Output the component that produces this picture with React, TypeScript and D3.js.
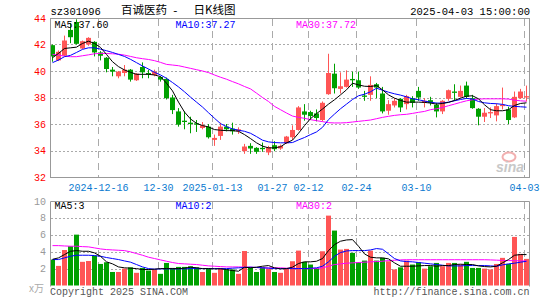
import React from 'react';
import * as d3 from 'd3';

const dates = [
  '2024-12-04','2024-12-05','2024-12-06','2024-12-09','2024-12-10','2024-12-11','2024-12-12','2024-12-13',
  '2024-12-16','2024-12-17','2024-12-18','2024-12-19','2024-12-20','2024-12-23','2024-12-24','2024-12-25',
  '2024-12-26','2024-12-27','2024-12-30','2024-12-31','2025-01-02','2025-01-03','2025-01-06','2025-01-07',
  '2025-01-08','2025-01-09','2025-01-10','2025-01-13','2025-01-14','2025-01-15','2025-01-16','2025-01-17',
  '2025-01-20','2025-01-21','2025-01-22','2025-01-23','2025-01-24','2025-01-27','2025-02-05','2025-02-06',
  '2025-02-07','2025-02-10','2025-02-11','2025-02-12','2025-02-13','2025-02-14','2025-02-17','2025-02-18',
  '2025-02-19','2025-02-20','2025-02-21','2025-02-24','2025-02-25','2025-02-26','2025-02-27','2025-02-28',
  '2025-03-03','2025-03-04','2025-03-05','2025-03-06','2025-03-07','2025-03-10','2025-03-11','2025-03-12',
  '2025-03-13','2025-03-14','2025-03-17','2025-03-18','2025-03-19','2025-03-20','2025-03-21','2025-03-24',
  '2025-03-25','2025-03-26','2025-03-27','2025-03-28','2025-03-31','2025-04-01','2025-04-02','2025-04-03',
];

const open = [
  41.95, 40.8, 41.15, 43.1, 43.7, 41.7, 42.0, 42.2, 41.4, 41.0,
  40.1, 39.6, 39.85, 40.1, 39.3, 40.3, 39.85, 39.7, 39.55, 39.4,
  38.0, 36.95, 36.25, 36.1, 36.05, 35.7, 35.8, 34.8, 35.1, 35.8,
  35.65, 35.45, 33.95, 34.35, 34.2, 34.2, 33.85, 34.4, 34.15, 34.55,
  35.0, 35.55, 36.95, 36.9, 36.8, 36.3, 38.25, 39.8, 38.65, 38.8,
  39.4, 39.3, 38.15, 38.2, 39.0, 38.3, 37.0, 37.4, 37.9, 37.5,
  37.95, 38.5, 37.6, 37.8, 37.45, 36.95, 37.9, 38.45, 38.05, 38.9,
  37.95, 37.15, 36.55, 36.8, 36.65, 37.35, 37.1, 36.5, 37.95, 38.0,
];
const close = [
  41.1, 41.45, 42.3, 42.55, 42.05, 42.25, 42.5, 41.4, 41.15, 40.15,
  39.95, 39.95, 40.1, 39.35, 39.8, 39.9, 39.75, 39.95, 39.35, 37.95,
  37.05, 35.95, 36.15, 36.0, 35.95, 35.9, 35.0, 34.95, 35.8, 35.6,
  35.45, 35.6, 34.3, 34.15, 33.9, 34.1, 34.25, 34.1, 34.35, 35.05,
  35.55, 37.25, 36.7, 36.6, 36.45, 37.6, 39.85, 38.7, 38.85, 39.35,
  39.3, 38.75, 38.05, 38.95, 38.75, 36.95, 37.5, 37.75, 37.25, 38.1,
  37.6, 38.0, 37.75, 37.6, 36.95, 37.75, 38.55, 38.35, 38.5, 38.05,
  37.2, 36.55, 36.85, 36.9, 37.35, 37.45, 36.3, 38.05, 38.45, 38.1,
];
const high = [
  42.0, 41.55, 42.67, 43.6, 43.9, 42.3, 42.55, 42.25, 41.5, 41.05,
  40.3, 40.0, 40.45, 40.15, 39.85, 40.65, 40.1, 40.1, 39.6, 39.5,
  38.2, 37.2, 36.95, 36.55, 36.3, 36.15, 36.0, 35.2, 36.1, 36.0,
  36.1, 35.75, 34.5, 34.55, 34.25, 34.6, 34.35, 34.7, 34.45, 35.1,
  35.9, 37.35, 37.5, 37.0, 37.1, 37.7, 41.3, 40.55, 39.9, 40.05,
  39.95, 39.95, 38.5, 39.6, 39.1, 38.8, 37.8, 37.95, 37.95, 38.2,
  38.1, 38.8, 37.95, 38.05, 37.6, 37.8, 38.6, 39.0, 38.9, 39.2,
  38.2, 37.2, 37.2, 37.25, 37.55, 38.75, 37.3, 38.45, 38.65, 38.9,
];
const low = [
  40.7, 40.75, 41.1, 42.1, 42.0, 41.65, 41.9, 41.1, 40.8, 39.9,
  39.6, 39.45, 39.6, 39.2, 39.25, 39.45, 39.45, 39.6, 39.2, 37.85,
  36.75, 35.8, 35.6, 35.3, 35.4, 35.6, 34.9, 34.35, 34.8, 35.45,
  35.2, 35.25, 33.75, 33.75, 33.75, 33.9, 33.65, 33.95, 34.05, 34.5,
  34.8, 35.5, 36.25, 36.3, 36.2, 36.2, 38.2, 38.3, 38.3, 38.75,
  38.8, 38.65, 37.75, 37.75, 37.95, 36.8, 36.7, 37.25, 36.9, 37.1,
  37.25, 37.75, 37.25, 37.4, 36.5, 36.75, 37.75, 37.75, 38.0, 37.9,
  37.15, 35.9, 36.15, 36.45, 36.2, 37.1, 36.0, 36.45, 37.9, 37.7,
];

const ma5 = [
  41.0, 41.33, 41.7, 41.75, 41.8, 42.08, 42.25, 42.08, 41.78, 41.25,
  40.7, 40.33, 40.08, 39.9, 39.75, 39.75, 39.75, 39.7, 39.58, 39.08,
  38.5, 37.65, 36.9, 36.38, 36.05, 35.88, 35.78, 35.58, 35.53, 35.5,
  35.5, 35.45, 35.2, 34.9, 34.58, 34.33, 34.2, 34.2, 34.28, 34.58,
  34.78, 35.3, 35.88, 36.4, 36.78, 37.13, 37.5, 37.83, 38.2, 38.58,
  39.08, 38.95, 38.85, 38.83, 38.9, 38.58, 38.2, 37.95, 37.78, 37.65,
  37.65, 37.65, 37.63, 37.58, 37.5, 37.55, 37.63, 37.78, 37.95, 38.1,
  38.13, 37.9, 37.45, 37.08, 37.0, 37.0, 37.08, 37.4, 37.55, 37.6,
];
const ma10 = [
  40.63, 40.83, 41.08, 41.18, 41.4, 41.63, 41.75, 41.75, 41.65, 41.53,
  41.4, 41.25, 41.1, 40.88, 40.63, 40.38, 40.15, 39.9, 39.7, 39.45,
  39.13, 38.8, 38.43, 38.03, 37.65, 37.28, 36.85, 36.43, 36.03, 35.8,
  35.63, 35.53, 35.45, 35.3, 35.05, 34.78, 34.65, 34.6, 34.58, 34.58,
  34.6, 34.8, 34.98, 35.2, 35.4, 35.75, 36.33, 36.75, 37.15, 37.5,
  37.85, 38.13, 38.25, 38.43, 38.7, 38.55, 38.4, 38.28, 38.18, 38.05,
  37.9, 37.83, 37.73, 37.65, 37.58, 37.58, 37.65, 37.75, 37.85, 37.93,
  37.88, 37.7, 37.6, 37.55, 37.53, 37.48, 37.38, 37.33, 37.3, 37.27,
];
const ma30 = [
  41.25, 41.2, 41.12, 41.08, 41.08, 41.15, 41.22, 41.3, 41.33, 41.32,
  41.3, 41.27, 41.2, 41.1, 41.0, 40.93, 40.87, 40.78, 40.65, 40.5,
  40.45, 40.4, 40.3, 40.2, 40.1, 40.0, 39.88, 39.7, 39.53, 39.38,
  39.2, 39.03, 38.83, 38.65, 38.33, 38.0, 37.7, 37.33, 37.08, 36.83,
  36.6, 36.5, 36.43, 36.33, 36.25, 36.18, 36.1, 36.08, 36.08, 36.1,
  36.15, 36.2, 36.25, 36.3, 36.4, 36.5, 36.58, 36.65, 36.7, 36.73,
  36.8, 36.88, 36.95, 37.08, 37.15, 37.25, 37.38, 37.5, 37.63, 37.75,
  37.83, 37.88, 37.9, 37.9, 37.9, 37.9, 37.88, 37.8, 37.75, 37.72,
];

const volume = [
  3.07, 2.32, 4.2, 4.65, 6.02, 2.8, 2.9, 3.54, 2.55, 2.75,
  1.6, 1.6, 2.0, 2.15, 1.5, 2.08, 1.77, 1.9, 1.38, 2.67,
  2.08, 2.2, 2.2, 2.28, 2.15, 1.6, 2.0, 1.5, 2.08, 1.9,
  1.9, 1.38, 4.08, 2.15, 1.6, 2.15, 1.97, 1.6, 1.5, 2.0,
  2.87, 4.13, 2.8, 2.48, 2.08, 4.05, 8.27, 6.5, 4.25, 4.33,
  3.86, 2.75, 2.95, 4.13, 2.95, 3.27, 2.87, 1.9, 2.15, 2.95,
  2.48, 2.75, 2.0, 2.28, 2.67, 2.28, 2.67, 2.67, 2.48, 2.8,
  2.08, 2.08, 2.0, 1.9, 2.55, 3.27, 2.55, 5.75, 3.74, 3.15,
];
const vma5 = [
  3.1, 3.27, 3.66, 4.05, 4.13, 4.05, 4.05, 3.86, 3.46, 2.8,
  2.56, 2.2, 2.09, 2.05, 2.0, 1.89, 1.89, 1.93, 2.0, 2.0,
  2.0, 2.0, 2.05, 2.17, 2.09, 2.0, 2.0, 1.97, 1.97, 1.89,
  1.77, 1.69, 2.17, 2.09, 2.17, 2.28, 2.36, 2.09, 1.97, 2.0,
  2.17, 2.6, 2.8, 2.8, 2.87, 3.19, 4.13, 4.84, 5.24, 5.39,
  5.43, 4.65, 3.74, 3.35, 3.27, 3.27, 3.15, 2.68, 2.28, 2.28,
  2.28, 2.32, 2.36, 2.36, 2.28, 2.36, 2.36, 2.48, 2.52, 2.48,
  2.48, 2.32, 2.24, 2.2, 2.28, 2.68, 3.07, 3.58, 3.66, 3.66,
];
const vma10 = [
  3.07, 3.07, 3.27, 3.46, 3.58, 3.58, 3.58, 3.54, 3.46, 3.31,
  3.19, 3.07, 2.91, 2.76, 2.48, 2.2, 2.0, 1.93, 1.97, 1.97,
  1.97, 1.97, 1.97, 2.0, 2.0, 2.0, 2.0, 2.0, 2.0, 2.0,
  2.05, 2.09, 2.13, 2.17, 2.13, 2.09, 2.05, 2.0, 2.0, 2.0,
  2.0, 2.0, 2.0, 2.05, 2.09, 2.28, 2.8, 3.46, 3.9, 4.09,
  4.13, 4.13, 4.13, 4.21, 4.37, 4.29, 3.74, 3.19, 2.91, 2.83,
  2.8, 2.72, 2.64, 2.56, 2.48, 2.4, 2.32, 2.32, 2.32, 2.36,
  2.36, 2.36, 2.36, 2.32, 2.28, 2.44, 2.56, 2.64, 2.76, 2.87,
];
const vma30 = [
  4.72, 4.72, 4.68, 4.65, 4.65, 4.6, 4.57, 4.45, 4.33, 4.25,
  4.21, 4.17, 4.13, 3.98, 3.78, 3.58, 3.35, 3.19, 3.03, 2.87,
  2.72, 2.6, 2.56, 2.52, 2.48, 2.4, 2.32, 2.28, 2.24, 2.2,
  2.2, 2.2, 2.17, 2.17, 2.13, 2.09, 2.09, 2.09, 2.09, 2.05,
  2.05, 2.0, 2.0, 2.0, 2.0, 2.09, 2.28, 2.48, 2.56, 2.64,
  2.68, 2.72, 2.76, 2.8, 2.83, 2.87, 2.95, 2.99, 3.03, 3.05,
  3.05, 3.05, 3.05, 3.05, 3.05, 3.05, 3.05, 3.05, 3.05, 3.05,
  3.05, 3.05, 3.05, 3.03, 3.0, 2.97, 2.95, 2.93, 2.92, 2.9,
];

const tickDates = ['2024-12-16','2024-12-30','2025-01-13','2025-01-27','2025-02-12','2025-02-24','2025-03-10','2025-04-03'];
const tickLabels = ['2024-12-16','12-30','2025-01-13','01-27','02-12','02-24','03-10','04-03'];
const priceTicks = [32, 34, 36, 38, 40, 42, 44];
const priceGrid = [34, 36, 38, 40, 42];
const volTicks = [2, 4, 6, 8, 10];
const volGrid = [2, 4, 6, 8];

const RED = '#ff5555';
const GREEN = '#00a000';
const MONO = '"Liberation Mono", "DejaVu Sans Mono", monospace';
const CJK = '"Noto Sans CJK SC", sans-serif';

export default function App() {
  const x = d3.scaleBand<string>().domain(dates).range([50, 530]).padding(0);
  const y = d3.scaleLinear().domain([32, 44]).range([177, 18]);
  const yv = d3.scaleLinear().domain([0, 10]).range([285.5, 201]);
  const cx = (d: string) => (x(d) as number) + 2.5;

  const mkLine = (vals: number[], sc: d3.ScaleLinear<number, number>) =>
    d3.line<number>().x((_, i) => cx(dates[i])).y((v) => sc(v))(vals) || '';

  const last = (a: number[]) => a[a.length - 1];

  return (
    <div style={{ position: 'absolute', left: 0, top: 0, width: 545, height: 300, background: '#fff' }}>
      <svg width={545} height={300} style={{ display: 'block' }}>
        <rect width={545} height={300} fill="#fff" />
        {/* Title */}
        <text x={50.5} y={14.5} fontFamily={MONO} fontSize={10.5} fill="#000">sz301096</text>
        <text x={121} y={14} fontFamily={CJK} fontSize={11.5} fill="#000">百诚医药</text>
        <text x={172} y={14} fontFamily={MONO} fontSize={11} fill="#000">-</text>
        <text x={193.5} y={14} fontFamily={CJK} fontSize={11.5} fill="#000">日K线图</text>
        <text x={530} y={14.5} textAnchor="end" fontFamily={MONO} fontSize={10.5} fill="#000">2025-04-03 15:00:00</text>

        {/* Main grid */}
        {priceGrid.map((p) => (
          <line key={'pg' + p} x1={51} x2={529} y1={Math.round(y(p)) + 0.5} y2={Math.round(y(p)) + 0.5}
            stroke="#aaa" strokeDasharray="2,2" />
        ))}
        {tickDates.map((d) => (
          <line key={'vg' + d} x1={(x(d) as number) + 0.5} x2={(x(d) as number) + 0.5} y1={19} y2={177}
            stroke="#aaa" strokeDasharray="7,5" />
        ))}
        {/* Watermark */}
        <ellipse cx={509} cy={157} rx={6.5} ry={4.5} fill="none" stroke="#f2b0b0" strokeWidth={2} />
        <text x={496} y={172} fontFamily='"Liberation Sans", sans-serif' fontWeight="bold" fontStyle="italic"
          fontSize={14} fill="#c8c8c8">sina</text>

        {/* Candles */}
        {dates.map((d, i) => {
          const up = close[i] >= open[i];
          const col = up ? RED : GREEN;
          const top = y(Math.max(open[i], close[i]));
          const bot = y(Math.min(open[i], close[i]));
          return (
            <g key={'c' + d}>
              <line x1={cx(d)} x2={cx(d)} y1={y(high[i])} y2={y(low[i])} stroke={col} strokeWidth={1} />
              <rect x={x(d) as number} y={top} width={5} height={Math.max(1, bot - top)} fill={col} />
            </g>
          );
        })}
        <path d={mkLine(ma30, y)} fill="none" stroke="#ff00ff" strokeWidth={1} />
        <path d={mkLine(ma10, y)} fill="none" stroke="#0000ff" strokeWidth={1} />
        <path d={mkLine(ma5, y)} fill="none" stroke="#000" strokeWidth={1} />

        <rect x={50.5} y={18.5} width={479} height={159} fill="none" stroke="#999" strokeWidth={1} />

        {/* Legends */}
        <text x={54.5} y={28} fontFamily={MONO} fontSize={10} fill="#000">MA5:{last(ma5).toFixed(2)}</text>
        <text x={175.5} y={28} fontFamily={MONO} fontSize={10} fill="#0000ff">MA10:{last(ma10).toFixed(2)}</text>
        <text x={296} y={28} fontFamily={MONO} fontSize={10} fill="#ff00ff">MA30:{last(ma30).toFixed(2)}</text>

        {/* Price axis */}
        {priceTicks.map((p) => (
          <text key={'pt' + p} x={46} y={y(p) + 3.5} textAnchor="end" fontFamily={MONO} fontSize={10} fill="#f00">{p}</text>
        ))}

        {/* Date labels */}
        {tickDates.map((d, i) => (
          <text key={'dl' + d} x={(x(d) as number) + 0.5} y={191} textAnchor="middle" fontFamily={MONO}
            fontSize={10} fill="#0a7ad0">{tickLabels[i]}</text>
        ))}

        {/* Volume panel grid */}
        {volGrid.map((v) => (
          <line key={'vgh' + v} x1={51} x2={529} y1={Math.round(yv(v)) + 0.5} y2={Math.round(yv(v)) + 0.5}
            stroke="#aaa" strokeDasharray="2,2" />
        ))}
        {tickDates.map((d) => (
          <line key={'vvg' + d} x1={(x(d) as number) + 0.5} x2={(x(d) as number) + 0.5} y1={202} y2={286}
            stroke="#aaa" strokeDasharray="7,5" />
        ))}
        {dates.map((d, i) => {
          const up = close[i] >= open[i];
          return (
            <rect key={'v' + d} x={x(d) as number} y={yv(volume[i])} width={5}
              height={yv(0) - yv(volume[i])} fill={up ? RED : GREEN} />
          );
        })}
        <path d={mkLine(vma30, yv)} fill="none" stroke="#ff00ff" strokeWidth={1} />
        <path d={mkLine(vma10, yv)} fill="none" stroke="#0000ff" strokeWidth={1} />
        <path d={mkLine(vma5, yv)} fill="none" stroke="#000" strokeWidth={1} />
        <path d="M50.5,286.5V201.5H529.5V286.5" fill="none" stroke="#999" strokeWidth={1} />

        <text x={54.5} y={209} fontFamily={MONO} fontSize={10} fill="#000">MA5:{Math.floor(last(vma5))}</text>
        <text x={175.5} y={209} fontFamily={MONO} fontSize={10} fill="#0000ff">MA10:{Math.floor(last(vma10))}</text>
        <text x={296} y={209} fontFamily={MONO} fontSize={10} fill="#ff00ff">MA30:{Math.floor(last(vma30))}</text>

        {volTicks.map((v) => (
          <text key={'vt' + v} x={46} y={yv(v) + 3.5} textAnchor="end" fontFamily={MONO} fontSize={10} fill="#999">{v}</text>
        ))}
        <text x={29} y={292} fontFamily={CJK} fontSize={10} fill="#aaa">x万</text>

        {/* Footer */}
        <text x={50} y={295} fontFamily={MONO} fontSize={10} fill="#555">Copyright 2025 SINA.COM</text>
        <text x={529.5} y={295} textAnchor="end" fontFamily={MONO} fontSize={10} fill="#555">http://finance.sina.com.cn</text>
      </svg>
    </div>
  );
}
